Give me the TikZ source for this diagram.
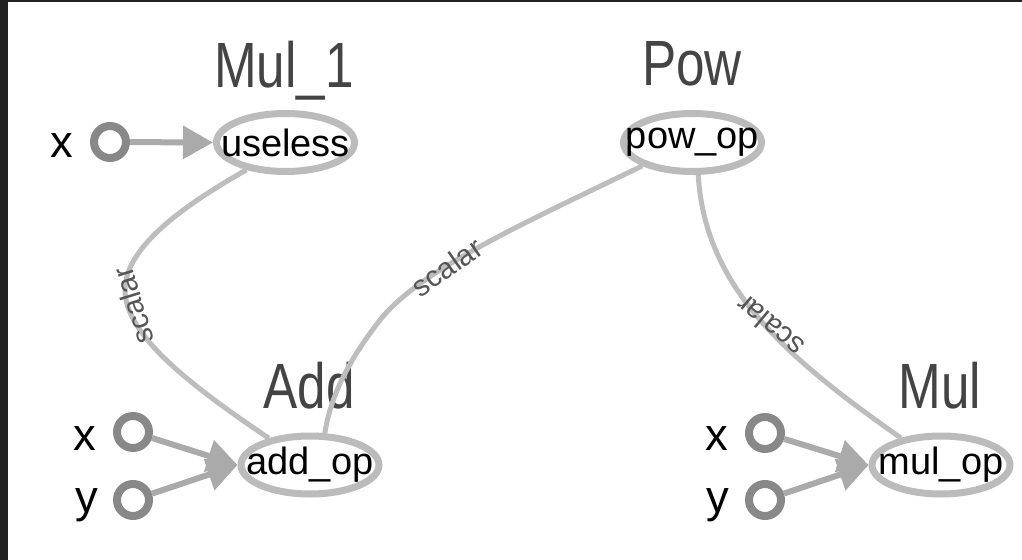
\documentclass[tikz,border=0pt]{standalone}
\usepackage{fontspec}
\setmainfont{Liberation Sans}
\newfontfamily\grpfont[FakeStretch=0.8]{Liberation Sans}
\usetikzlibrary{arrows.meta,shapes.geometric}
\definecolor{grp}{HTML}{444444}
\definecolor{opline}{HTML}{BBBBBB}
\definecolor{portline}{HTML}{888888}
\definecolor{inarr}{HTML}{AAAAAA}
\definecolor{edgec}{HTML}{BDBDBD}
\definecolor{elab}{HTML}{555555}
\definecolor{frame}{HTML}{222222}
\begin{document}
\begin{tikzpicture}[x=0.75pt,y=-0.75pt,
  opnode/.style={ellipse, draw=opline, line width=5.25pt, minimum width=103.5pt, minimum height=43.5pt, inner sep=0pt},
  optext/.style={font=\fontsize{28.5}{28.5}\selectfont, text=black, inner sep=0pt},
  grptext/.style={font=\grpfont\fontsize{48}{48}\selectfont, text=grp, anchor=base, inner sep=0pt},
  inport/.style={circle, draw=portline, line width=6pt, minimum size=24pt, inner sep=0pt},
  iolabel/.style={font=\fontsize{34}{34}\selectfont, text=black, anchor=base, inner sep=0pt},
  inarrow/.style={draw=inarr, line width=4.5pt, -{Triangle[length=22.5pt,width=24pt]}},
  dataedge/.style={draw=edgec, line width=3.75pt},
  edgelabel/.style={font=\fontsize{22}{22}\selectfont, text=elab, inner sep=0pt}]
\useasboundingbox (0,0) rectangle (1022,560);
\fill[white] (0,0) rectangle (1022,560);
\fill[frame] (0,0) rectangle (8,560);
\fill[frame] (0,0) rectangle (1022,2);

% group labels
\node[grptext] (gmul1) at (284,88) {Mul\_1};
\node[grptext] (gpow) at (692,86) {Pow};
\node[grptext] (gadd) at (309,408) {Add};
\node[grptext] (gmul) at (940,408) {Mul};

% op nodes
\node[opnode] (useless) at (285.5,142.5) {};
\node[opnode] (pow) at (692.5,142.5) {};
\node[opnode] (add) at (310,465) {};
\node[opnode] (mul) at (941,465) {};
\node[optext] (uselesst) at (useless) {useless};
\node[optext] (powt) at (pow) {pow\_op};
\node[optext] (addt) at (add) {add\_op};
\node[optext] (mult) at (mul) {mul\_op};

% input ports
\node[inport] (xm1) at (110,142) {};
\node[inport] (xa) at (133,432) {};
\node[inport] (ya) at (133,500) {};
\node[inport] (xmu) at (765,433) {};
\node[inport] (ymu) at (765,500) {};
\node[iolabel] (lxm1) at (62,157) {x};
\node[iolabel] (lxa) at (85,450) {x};
\node[iolabel] (lya) at (87,512) {y};
\node[iolabel] (lxmu) at (717,450) {x};
\node[iolabel] (lymu) at (718,512) {y};

% input arrows
\draw[inarrow] (xm1) -- (useless.west);
\draw[inarrow] (xa) -- (add.west);
\draw[inarrow] (ya) -- (add.west);
\draw[inarrow] (xmu) -- (mul.west);
\draw[inarrow] (ymu) -- (mul.west);

% data edges
\draw[dataedge] (useless.215) .. controls (190,202) and (125,245) .. (125,290)
  .. controls (125,335) and (190,385) .. (add.147);
\draw[dataedge] (pow.205) .. controls (520,225) and (420,270) .. (380,320)
  .. controls (345,365) and (330,400) .. (add.65);
\draw[dataedge] (pow.280) .. controls (705,290) and (790,360) .. (mul.146);

% edge labels
\node[edgelabel, rotate=107] (s1) at (133,306) {scalar};
\node[edgelabel, rotate=35] (s2) at (447,267) {scalar};
\node[edgelabel, rotate=140] (s3) at (770,326) {scalar};
\end{tikzpicture}
\end{document}
